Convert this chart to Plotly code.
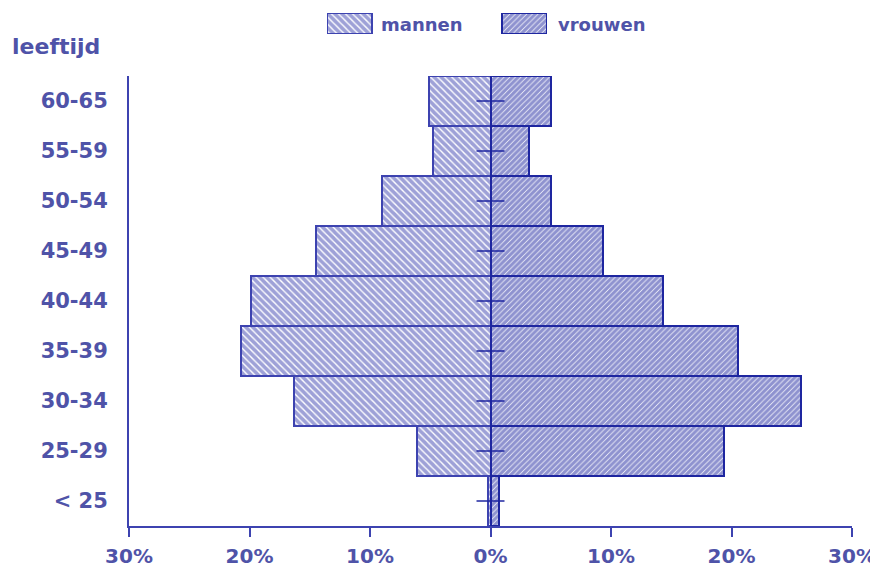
import plotly.graph_objects as go

leeftijd = ["< 25", "25-29", "30-34", "35-39", "40-44", "45-49", "50-54", "55-59", "60-65"]
mannen = [0.2, 6.1, 16.3, 20.7, 19.9, 14.5, 9.0, 4.8, 5.1]
vrouwen = [0.7, 19.4, 25.8, 20.5, 14.3, 9.3, 5.0, 3.2, 5.0]
tick_vals = [-30, -20, -10, 0, 10, 20, 30]
tick_text = ["30%", "20%", "10%", "0%", "10%", "20%", "30%"]
legend_names = ["mannen", "vrouwen"]

TXT = "#4f53a8"
C_M = "#3d43b0"
C_V = "#1e26a0"
FONT = "DejaVu Sans"

PAT_M = dict(shape="\\", fgcolor=C_M, bgcolor="white", size=5, solidity=0.72)
PAT_V = dict(shape="/", fgcolor=C_V, bgcolor="white", size=4, solidity=0.82)

fig = go.Figure()

fig.add_trace(go.Bar(
    y=leeftijd, x=[-v for v in mannen], orientation="h", name="mannen",
    marker=dict(color="white", line=dict(color=C_M, width=2), pattern=PAT_M),
    showlegend=False,
))
fig.add_trace(go.Bar(
    y=leeftijd, x=vrouwen, orientation="h", name="vrouwen",
    marker=dict(color="white", line=dict(color=C_V, width=2), pattern=PAT_V),
    showlegend=False,
))
# small tick marks on the zero line
fig.add_trace(go.Scatter(
    y=leeftijd, x=[0] * len(leeftijd), mode="markers",
    marker=dict(symbol="line-ew", size=20, line=dict(color=C_V, width=1.5)),
    showlegend=False, hoverinfo="skip",
))

# custom legend swatches on a small helper axis
fig.add_trace(go.Bar(
    x=[22.5], y=[1], base=[0], width=[45], xaxis="x2", yaxis="y2",
    marker=dict(color="white", line=dict(color=C_M, width=2), pattern=PAT_M),
    showlegend=False, hoverinfo="skip",
))
fig.add_trace(go.Bar(
    x=[197.5], y=[1], base=[0], width=[45], xaxis="x2", yaxis="y2",
    marker=dict(color="white", line=dict(color=C_V, width=2), pattern=PAT_V),
    showlegend=False, hoverinfo="skip",
))

# page has an 8px body margin; positions below are page pixels
OFF = 8
W, H = 878, 568
ml = 129 - OFF
mr = W - (852 - OFF)
mt = 10 - OFF
mb = H - (526 - OFF)
plot_h = H - mt - mb
plot_w = W - ml - mr
main_top = (526 - 76) / plot_h


def px_x(px):
    return (px - OFF - ml) / plot_w


def px_y(py):
    return (526 - py) / plot_h


BOLD = dict(family=FONT, color=TXT, size=21, weight="bold")

fig.update_layout(
    width=W, height=H,
    margin=dict(l=ml, r=mr, t=mt, b=mb, autoexpand=False),
    paper_bgcolor="white", plot_bgcolor="white",
    barmode="relative", bargap=0,
    font=dict(family=FONT, color=TXT, size=20),
    xaxis=dict(range=[-30, 30], tickvals=tick_vals, ticktext=tick_text, automargin=False,
               showgrid=False, zeroline=False, showline=True, linecolor=C_M, linewidth=1.5,
               ticks="outside", ticklen=9, tickwidth=1.5, tickcolor=C_M, ticklabelstandoff=2,
               tickfont=dict(BOLD, size=20), anchor="y", fixedrange=True),
    yaxis=dict(domain=[0, main_top], showgrid=False, zeroline=False, showline=True, automargin=False,
               linecolor=C_M, linewidth=2, ticks="", ticklabelstandoff=15,
               tickfont=BOLD, categoryorder="array", categoryarray=leeftijd,
               range=[-0.5, len(leeftijd) - 0.5], anchor="x"),
    xaxis2=dict(domain=[px_x(327), px_x(547)], range=[0, 220], visible=False, anchor="y2",
                automargin=False),
    yaxis2=dict(domain=[px_y(34), px_y(13)], range=[0, 1], visible=False, anchor="x2",
                automargin=False),
    annotations=[
        dict(text="leeftijd", xref="paper", yref="paper", x=px_x(10), y=px_y(46),
             xanchor="left", yanchor="middle", showarrow=False, font=dict(BOLD, size=22)),
        dict(text=legend_names[0], xref="paper", yref="paper", x=px_x(379), y=px_y(24),
             xanchor="left", yanchor="middle", showarrow=False, font=dict(BOLD, size=18)),
        dict(text=legend_names[1], xref="paper", yref="paper", x=px_x(556), y=px_y(24),
             xanchor="left", yanchor="middle", showarrow=False, font=dict(BOLD, size=18)),
    ],
)

fig.write_html("out.html")
